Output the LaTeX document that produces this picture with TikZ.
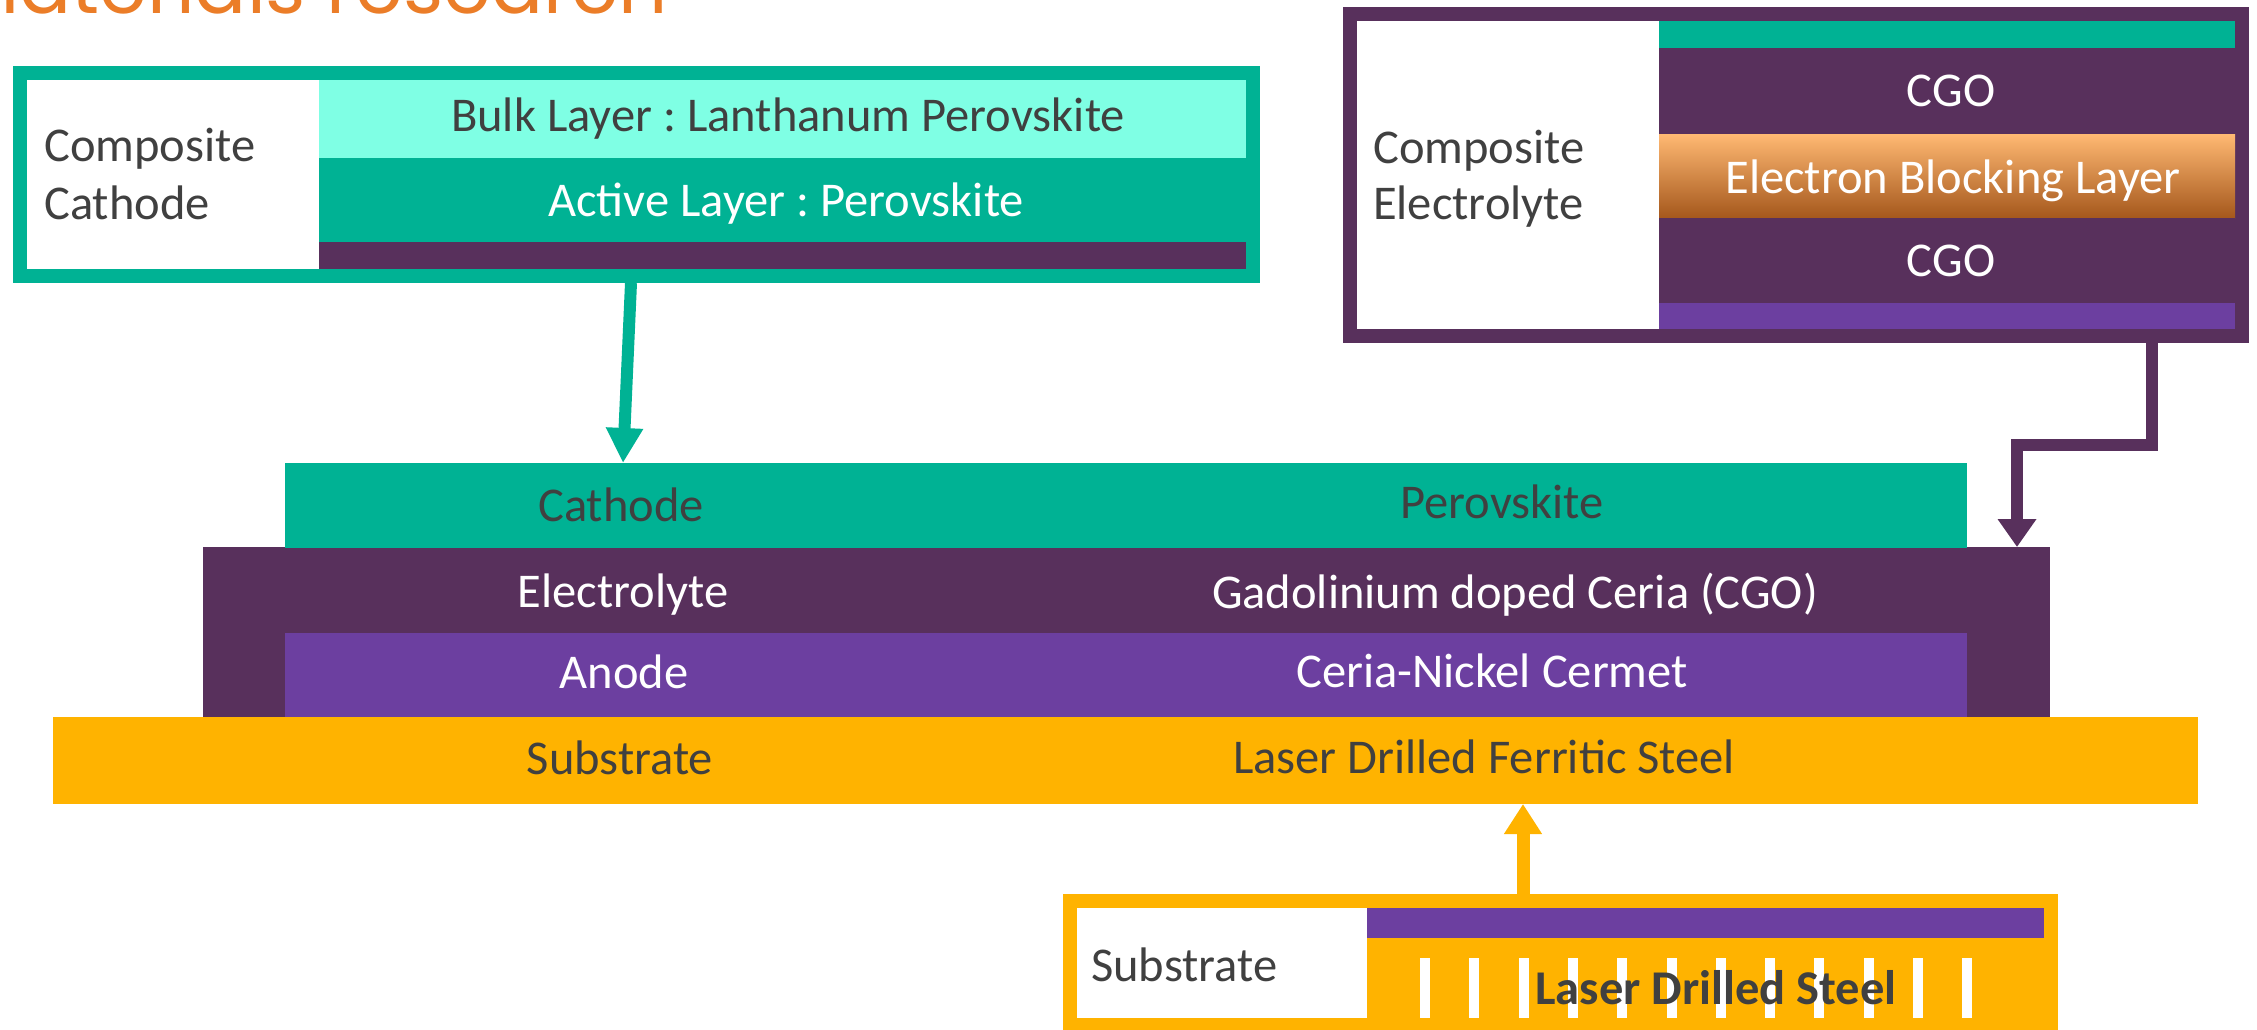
\documentclass[tikz,border=0pt]{standalone}
\usepackage{fontspec}
\setmainfont{Carlito}
\newfontfamily\titlefont{Poppins}
\usetikzlibrary{arrows.meta}

\definecolor{cteal}{HTML}{00B294}
\definecolor{caqua}{HTML}{7FFFE4}
\definecolor{cplum}{HTML}{58305C}
\definecolor{cviolet}{HTML}{6C3FA0}
\definecolor{camber}{HTML}{FFB300}
\definecolor{ctitle}{HTML}{EB7D28}
\definecolor{ctext}{HTML}{404040}

\begin{document}
\frenchspacing
\begin{tikzpicture}[x=1pt, y=-1pt,
    layer/.style={anchor=north west, inner sep=0pt, outer sep=0pt},
    frame/.style={anchor=north west, inner sep=0pt, line width=14pt},
    lbl/.style={inner sep=0pt, anchor=base, text=ctext, font=\fontsize{48.5}{56}\selectfont},
    wlbl/.style={lbl, text=white},
    conn/.style={line width=12pt, line join=miter}]
    \useasboundingbox (0,0) rectangle (2257,1029);

    % title, cut by the top of the page
    \node[inner sep=0pt, anchor=base west, text=ctitle, font=\titlefont\fontsize{77}{80}\selectfont] (title) at (-47,13) {Materials research};

    % composite cathode
    \node[frame, draw=cteal, fill=white, minimum width=1233pt, minimum height=203pt] (cathbox) at (13,66) {};
    \node[layer, fill=caqua, minimum width=927pt, minimum height=78pt] (bulk) at (319,80) {};
    \node[layer, fill=cteal, minimum width=927pt, minimum height=84pt] (active) at (319,158) {};
    \node[layer, fill=cplum, minimum width=927pt, minimum height=27pt] (cathfoot) at (319,242) {};
    \node[lbl, anchor=base west] (cathname1) at (44,161) {Composite};
    \node[lbl, anchor=base west] (cathname2) at (44,219) {Cathode};
    \node[lbl] (bulktext) at (788,131) {Bulk Layer : Lanthanum Perovskite};
    \node[wlbl] (activetext) at (786,216) {Active Layer : Perovskite};

    % composite electrolyte
    \node[frame, draw=cplum, fill=white, minimum width=892pt, minimum height=322pt] (elecbox) at (1343,7) {};
    \node[layer, fill=cteal, minimum width=576pt, minimum height=27pt] (electop) at (1659,21) {};
    \node[layer, fill=cplum, minimum width=576pt, minimum height=86pt] (cgoa) at (1659,48) {};
    \node[layer, top color=orange!55!white, middle color=ctitle, bottom color=ctitle!70!black, minimum width=576pt, minimum height=84pt] (ebl) at (1659,134) {};
    \node[layer, fill=cplum, minimum width=576pt, minimum height=85pt] (cgob) at (1659,218) {};
    \node[layer, fill=cviolet, minimum width=576pt, minimum height=26pt] (elecfoot) at (1659,303) {};
    \node[lbl, anchor=base west] (elecname1) at (1373,163) {Composite};
    \node[lbl, anchor=base west] (elecname2) at (1373,219) {Electrolyte};
    \node[wlbl] (cgoatext) at (1951,106) {CGO};
    \node[wlbl] (ebltext) at (1953,193) {Electron Blocking Layer};
    \node[wlbl] (cgobtext) at (1951,276) {CGO};

    % cell stack
    \node[layer, fill=cplum, minimum width=1847pt, minimum height=170pt] (elecl) at (203,547) {};
    \node[layer, fill=cteal, minimum width=1682pt, minimum height=85pt] (cathl) at (285,463) {};
    \node[layer, fill=cviolet, minimum width=1682pt, minimum height=85pt] (anodel) at (285,633) {};
    \node[layer, fill=camber, minimum width=2145pt, minimum height=87pt] (substl) at (53,717) {};
    \node[lbl] (cathtext) at (621,521) {Cathode};
    \node[lbl] (perotext) at (1502,518) {Perovskite};
    \node[wlbl] (electext) at (623,607) {Electrolyte};
    \node[wlbl] (gdctext) at (1515,608) {Gadolinium doped Ceria (CGO)};
    \node[wlbl] (anodetext) at (624,688) {Anode};
    \node[wlbl] (cermettext) at (1492,687) {Ceria-Nickel Cermet};
    \node[lbl] (substtext) at (620,774) {Substrate};
    \node[lbl] (steeltext) at (1484,773) {Laser Drilled Ferritic Steel};

    % substrate
    \node[frame, draw=camber, fill=camber, minimum width=981pt, minimum height=124pt] (subbox) at (1063,894) {};
    \node[layer, fill=white, minimum width=290pt, minimum height=110pt] (subname) at (1077,908) {};
    \node[layer, fill=cviolet, minimum width=677pt, minimum height=30pt] (subtop) at (1367,908) {};
    \foreach \i in {0,...,11}
        \fill[white] (1420+49.3*\i,958) rectangle ++(10,60);
    \node[lbl, anchor=base west] (subnametext) at (1091,981) {Substrate};
    \node[lbl, font=\fontsize{48.5}{56}\selectfont\bfseries] (drilltext) at (1716,1004) {Laser Drilled Steel};

    % arrows
    \coordinate (tealfoot) at ([xshift=-5.5pt]cathbox.south);
    \draw[conn, cteal, -{Triangle[length=35pt, width=35pt]}] (tealfoot) -- ([xshift=-503pt]cathl.north);
    \coordinate (plumfoot) at ([xshift=356pt]elecbox.south);
    \draw[conn, cplum, -{Triangle[length=28pt, width=37pt]}] (plumfoot) -- ++(0,102) -| ([xshift=890.5pt]elecl.north);
    \coordinate (amberfoot) at ([xshift=-37.5pt]subbox.north);
    \draw[conn, line width=13pt, camber, -{Triangle[length=30pt, width=36pt]}] (amberfoot) -- (amberfoot |- substl.south);
\end{tikzpicture}
\end{document}
